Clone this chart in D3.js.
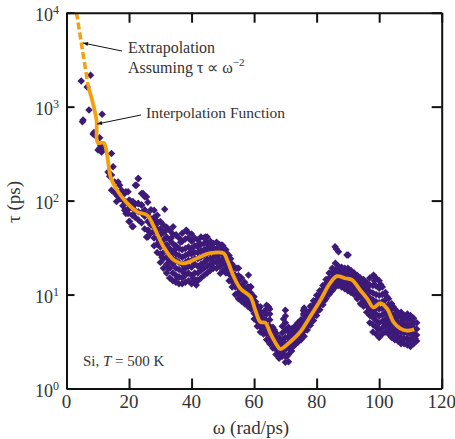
<!DOCTYPE html>
<html>
<head>
<meta charset="utf-8">
<script src="https://cdn.jsdelivr.net/npm/d3@7"></script>
<style>
body { margin: 0; background: #fff; }
text { font-family: "Liberation Serif", "Times New Roman", serif; fill: #333; }
</style>
</head>
<body>
<svg width="455" height="439"></svg>
<script>
// tick values
var xTicks = [0, 20, 40, 60, 80, 100, 120];
var yTicks = [1, 10, 100, 1000, 10000];

// interpolation function (omega, tau)
var lineW = [7.0, 8.2, 9.6, 10.0, 11.9, 13.0, 14.1, 16.2, 19.4, 22.6, 25.8, 27.9, 31.1, 34.3, 37.5, 41.8, 46.0, 50.3, 51.4, 53.5, 55.6, 58.8, 60.4, 62.0, 63.6, 65.2, 67.3, 68.4, 71.6, 74.8, 77.9, 81.2, 84.3, 86.5, 89.1, 91.3, 93.9, 96.1, 98.2, 100.3, 102.5, 104.6, 106.7, 108.8, 111.2];
var lineT = [1612, 1172, 718, 412, 412, 305, 179, 129, 94, 76, 70, 53, 32, 23.3, 21.5, 24.3, 27.6, 27.4, 23.3, 15.5, 11.6, 9.5, 6.8, 5.1, 5.0, 3.87, 2.9, 2.63, 3.15, 4.02, 5.8, 8.7, 13.2, 15.7, 14.9, 14.3, 11.2, 9.1, 7.3, 8.1, 7.1, 5.1, 4.37, 4.12, 4.26];

// extrapolation tau ~ omega^-2
var extraW = [3.2, 5.1, 7.0];
var extraT = [10000, 4000, 1612];

// scattered lifetimes, sparse part and outliers: [omega, tau]
var scatterFree = [
  [4.7, 1870], [7.7, 2160], [6.6, 1620], [7.2, 920], [11.4, 830], [5.3, 720], [5.1, 690], [8.5, 510], [8.8, 530], [9.0, 500], [10.6, 466],
  [10.6, 360], [10.1, 345], [11.7, 345], [11.2, 330], [12.0, 355], [10.9, 390], [14.4, 318], [14.9, 229], [13.3, 202], [13.8, 182], [14.4, 187],
  [15.4, 158], [16.5, 158], [14.4, 129], [17.0, 146], [22.9, 172], [22.4, 146], [17.6, 129], [18.6, 119], [19.7, 124], [20.2, 101],
  [24.5, 119], [25.6, 110], [21.3, 97], [18.6, 79], [19.7, 73], [21.3, 70], [22.9, 93], [24.0, 90], [31.4, 81], [20.2, 60], [21.3, 53],
  [25.6, 41], [26.1, 48.5], [27.7, 57], [34.1, 52.6], [38.3, 48.5], [35.1, 43], [15.5, 120], [16.3, 112], [17.1, 104], [16.0, 98],
  [28.5, 62], [29.5, 36], [30.5, 25], [31.5, 47], [32.5, 19], [33.5, 40], [34.5, 30], [35.5, 15], [36.5, 36], [37.5, 17], [38.6, 46.5],
  [39.5, 28], [40.5, 15], [41.5, 12.6], [41.8, 14.3], [42.5, 35], [43.5, 19], [44.4, 41], [45.5, 33], [46.5, 20], [47.5, 30], [48.5, 23],
  [49.2, 16.8], [49.7, 33.6], [50.5, 26], [51.5, 19], [52.5, 24], [53.5, 13], [54.5, 19], [55.5, 10], [56.5, 13], [57.5, 9], [58.2, 16.1],
  [58.8, 12.1], [59.5, 8], [60.5, 8.4], [61.5, 5], [62.5, 6], [63.5, 4.2], [64.6, 7.4], [65.5, 3.2], [66.5, 4.2], [67.5, 2.6], [68.5, 3.2],
  [69.4, 5.5], [70.5, 2.2], [71.5, 3.7], [72.5, 2.8], [73.5, 4.3], [74.5, 3.5], [75.8, 6.8], [75.8, 6.2], [76.5, 4.5], [77.5, 6.2],
  [78.5, 5.2], [79.5, 8.3], [80.5, 6.8], [81.5, 10.5], [82.5, 8.6], [83.5, 13.8], [84.5, 11], [85.5, 18], [85.9, 32.2], [86.3, 30.5],
  [87, 28.5], [89.7, 26.3], [90.1, 26.3], [86, 21.5], [88.5, 18.5], [89.5, 12.5], [90.5, 17.5], [91.5, 11.5], [92.5, 16], [93.5, 10],
  [94.5, 14], [95.5, 8.3], [96.5, 12.8], [97.5, 6], [98.2, 16.1], [98.5, 14], [99.5, 4.4], [100.5, 12.8], [101.5, 5], [102.5, 9.5],
  [103.5, 4.2], [104.5, 7.4], [105.5, 3.6], [106.5, 6], [107.5, 3.3], [108.5, 5.8], [109.5, 3.2], [110.5, 5.2], [111.5, 3.4]
];

// scattered lifetimes, dense part: [omega, tau, tau, ...]
var scatterCols = [
  [18, 118, 102, 88], [19, 124, 97, 79, 73], [20, 101, 90, 82, 60], [21, 97, 84, 70, 53], [22, 146, 92, 78, 66],
  [23, 172, 93, 76, 62], [24, 119, 90, 74, 58], [25, 110, 80, 68, 50], [26, 96, 72, 60, 48, 41], [27, 80, 64, 55, 45],
  [28, 33, 40, 47, 52, 58, 66, 79], [29, 28, 34, 40, 45, 50, 57, 70], [30, 22, 27, 32, 37, 43, 50, 60],
  [31, 19, 24, 28, 33, 38, 46, 55], [32, 17, 21, 25, 29, 34, 41, 52], [33, 15, 19, 23, 27, 31, 38, 48],
  [34, 14, 17, 21, 24, 28, 35, 44], [35, 13.5, 16, 19, 23, 27, 33, 43], [36, 13, 15.5, 18.5, 22, 26, 31, 40],
  [37, 13, 15, 18, 21, 25, 30, 37, 45], [38, 13.5, 16, 19, 22, 26, 31, 39], [39, 14, 17, 20, 23, 27, 32, 40],
  [40, 13, 16, 19.5, 23, 27, 31, 37, 44], [41, 14.3, 17, 21, 24, 28, 33, 40], [42, 14, 17, 20, 24, 28, 32, 38],
  [43, 15, 18, 21, 25, 29, 34, 41], [44, 16, 19, 22, 26, 30, 35, 40], [45, 17, 20, 23.5, 27, 31, 36, 41],
  [46, 18, 21, 24, 28, 32, 37], [47, 19, 22, 25, 28, 31, 35], [48, 19, 22, 25, 28, 31, 36], [49, 20, 23, 27, 30, 34],
  [50, 18, 21, 24, 27, 30, 33], [51, 17, 20, 23, 25, 28, 30], [52, 14, 16.5, 19, 21, 23.5, 26], [53, 12, 14, 15.5, 17, 19, 21],
  [54, 10, 12, 13.5, 14.5, 16, 19], [55, 9, 10.5, 11.8, 12.6, 14, 16, 19], [56, 8.5, 9.8, 10.6, 11.4, 12.6, 15],
  [57, 8, 9, 9.8, 10.5, 11.6, 13.5], [58, 7.5, 8.6, 9.4, 10, 11.2, 12.1], [59, 7, 8, 8.7, 9.3, 10.4, 12],
  [60, 5.5, 6.3, 7, 7.5, 8.4, 9.5], [61, 4.6, 5.2, 5.7, 6.1, 6.8, 7.6], [62, 4.0, 4.5, 4.9, 5.2, 5.8, 6.6, 7.4],
  [63, 3.8, 4.3, 4.7, 5.1, 5.6, 6.5], [64, 3.3, 3.8, 4.3, 4.7, 5.3, 6.2, 7, 7.7], [65, 3.0, 3.4, 3.8, 4.1, 4.6, 5.4, 6.2, 7.0],
  [66, 2.7, 3.0, 3.3, 3.6, 4.0, 4.5], [67, 2.3, 2.6, 2.9, 3.1, 3.5, 3.9], [68, 2.1, 2.4, 2.6, 2.8, 3.1, 3.5],
  [69, 2.2, 2.4, 2.7, 2.9, 3.3, 3.9, 4.6], [70, 1.9, 2.2, 2.6, 3.0, 3.5, 4.2, 5.0, 5.9, 6.8], [71, 1.93, 2.3, 2.7, 3.1, 3.5, 4.0, 4.5],
  [72, 2.5, 2.8, 3.1, 3.4, 3.8, 4.3], [73, 2.9, 3.2, 3.5, 3.7, 4.1, 4.6], [74, 3.1, 3.4, 3.7, 4.0, 4.4, 5.0],
  [75, 3.3, 3.7, 4.0, 4.3, 4.8, 5.4], [76, 3.6, 4.1, 4.5, 4.9, 5.4, 6.0, 6.6, 7.2], [77, 4.2, 4.7, 5.1, 5.5, 6.0, 6.5],
  [78, 4.7, 5.3, 5.8, 6.2, 6.8, 7.5], [79, 5.3, 6.0, 6.5, 7.0, 7.8, 8.6], [80, 6.0, 6.8, 7.4, 8.0, 8.8, 9.8],
  [81, 6.9, 7.7, 8.4, 9.0, 10, 11], [82, 7.8, 8.8, 9.5, 10.3, 11.3, 12.5], [83, 9.0, 10, 11, 11.8, 13, 14.5],
  [84, 10, 11.4, 12.5, 13.4, 15, 17], [85, 11, 12.6, 14, 15, 16.8, 19], [86, 12, 13.6, 15, 16.3, 18.5],
  [87, 12.5, 14, 15.3, 16.5, 18.2, 20], [88, 12, 13.5, 14.8, 16, 17.6, 19.5], [89, 11.5, 13, 14.5, 15.7, 17.3, 19],
  [90, 11, 12.6, 14.2, 15.5, 17.2, 19], [91, 10.5, 12, 13.8, 15, 16.5, 18], [92, 10, 11.5, 12.8, 14, 15.5, 17],
  [93, 9, 10.4, 11.6, 12.8, 14.3, 16], [94, 8, 9.4, 10.6, 11.7, 13.2, 15], [95, 7.5, 8.6, 9.7, 10.8, 12.5, 14.5],
  [96, 6.5, 7.6, 8.8, 9.8, 11.6, 13.5], [97, 5, 6, 7, 8, 9.2, 10.8, 12.6, 15], [98, 4, 4.8, 5.7, 6.6, 7.6, 8.8, 10.4, 12.5],
  [99, 3.8, 4.5, 5.3, 6.2, 7.2, 8.4, 10, 12.3, 15], [100, 3.5, 4.2, 5, 5.9, 7, 8.2, 9.8, 11.7, 14], [101, 3.8, 4.4, 5.2, 6.1, 7.1, 8.4, 10, 12],
  [102, 4, 4.7, 5.5, 6.4, 7.4, 8.8, 10.5], [103, 3.8, 4.4, 5.1, 5.9, 6.8, 7.8, 9], [104, 3.5, 4.1, 4.7, 5.4, 6.1, 7, 8],
  [105, 3.3, 3.8, 4.3, 4.9, 5.5, 6.2, 7], [106, 3.2, 3.6, 4.1, 4.6, 5.1, 5.8, 6.5], [107, 3.0, 3.5, 4.0, 4.4, 5.0, 5.7, 6.5],
  [108, 3.0, 3.4, 3.9, 4.3, 4.8, 5.4, 6], [109, 2.9, 3.4, 3.9, 4.3, 4.8, 5.5, 6.2], [110, 2.8, 3.3, 3.8, 4.3, 4.8, 5.4, 6],
  [111, 3.0, 3.5, 3.9, 4.4, 4.9, 5.6], [112, 3.2, 3.7, 4.3, 5.0]
];

var purple = "#3d1a78",
    orange = "#f5a00f";

var svg = d3.select("svg");
var plotLeft = 66.5, plotRight = 441.7, plotTop = 12.7, plotBottom = 388.5;

var x = d3.scaleLinear().domain([0, 120]).range([plotLeft, plotRight]);
var y = d3.scaleLog().domain([1, 1e4]).range([plotBottom, plotTop]);

svg.append("clipPath").attr("id", "plot")
  .append("rect")
  .attr("x", plotLeft).attr("y", plotTop)
  .attr("width", plotRight - plotLeft).attr("height", plotBottom - plotTop);

var pts = scatterCols.flatMap(function(c) {
  return c.slice(1).map(function(t) { return [c[0], t]; });
}).concat(scatterFree);

svg.append("g")
  .attr("clip-path", "url(#plot)")
  .selectAll("path")
  .data(pts)
  .enter()
  .append("path")
  .attr("d", d3.symbol(d3.symbolSquare, 28)())
  .attr("transform", function(d) {
    return "translate(" + x(d[0]) + "," + y(d[1]) + ") rotate(45)";
  })
  .attr("fill", purple);

var line = d3.line()
  .x(function(d) { return x(d[0]); })
  .y(function(d) { return y(d[1]); })
  .curve(d3.curveCatmullRom.alpha(0.5));

var curves = svg.append("g").attr("clip-path", "url(#plot)");

curves.append("path")
  .datum(d3.zip(extraW, extraT))
  .attr("d", line)
  .attr("fill", "none")
  .attr("stroke", orange)
  .attr("stroke-width", 3.5)
  .attr("stroke-dasharray", "7,3");

curves.append("path")
  .datum(d3.zip(lineW, lineT))
  .attr("d", line)
  .attr("fill", "none")
  .attr("stroke", orange)
  .attr("stroke-width", 3.8)
  .attr("stroke-linejoin", "round");

// axes, ticks inward on all four sides
function styleAxis(g) {
  g.select(".domain").attr("stroke", "#111").attr("stroke-width", 2);
  g.selectAll(".tick line").attr("stroke", "#111").attr("stroke-width", 2);
}

svg.append("g")
  .attr("transform", "translate(0," + plotBottom + ")")
  .call(d3.axisBottom(x).tickValues(xTicks).tickSize(-10).tickSizeOuter(0).tickFormat(""))
  .call(styleAxis);
svg.append("g")
  .attr("transform", "translate(0," + plotTop + ")")
  .call(d3.axisTop(x).tickValues(xTicks).tickSize(-10).tickSizeOuter(0).tickFormat(""))
  .call(styleAxis);
svg.append("g")
  .attr("transform", "translate(" + plotLeft + ",0)")
  .call(d3.axisLeft(y).tickValues(yTicks).tickSize(-8).tickSizeOuter(0).tickFormat(""))
  .call(styleAxis);
svg.append("g")
  .attr("transform", "translate(" + plotRight + ",0)")
  .call(d3.axisRight(y).tickValues(yTicks).tickSize(-10).tickSizeOuter(0).tickFormat(""))
  .call(styleAxis);

// tick labels
svg.append("g").selectAll("text")
  .data(xTicks)
  .enter()
  .append("text")
  .attr("x", function(d) { return x(d); })
  .attr("y", 408)
  .attr("text-anchor", "middle")
  .attr("font-size", 19)
  .text(function(d) { return d; });

var yl = svg.append("g").selectAll("text")
  .data(yTicks)
  .enter()
  .append("text")
  .attr("x", 59)
  .attr("y", function(d) { return y(d) + 8; })
  .attr("text-anchor", "end")
  .attr("font-size", 18);
yl.append("tspan").text("10");
yl.append("tspan")
  .attr("font-size", 12)
  .attr("dy", -7)
  .text(function(d) { return Math.round(Math.log10(d)); });

// axis titles
svg.append("text")
  .attr("x", 251).attr("y", 434)
  .attr("text-anchor", "middle")
  .attr("font-size", 19)
  .text("ω (rad/ps)");

svg.append("text")
  .attr("transform", "translate(20,202) rotate(-90)")
  .attr("text-anchor", "middle")
  .attr("font-size", 19)
  .text("τ (ps)");

// annotations
svg.append("defs").append("marker")
  .attr("id", "arrow")
  .attr("viewBox", "0 0 10 10")
  .attr("refX", 10).attr("refY", 5)
  .attr("markerWidth", 7).attr("markerHeight", 5)
  .attr("orient", "auto")
  .append("path")
  .attr("d", "M0,1L10,5L0,9Z")
  .attr("fill", "#111");

svg.append("line")
  .attr("x1", 122).attr("y1", 51)
  .attr("x2", 83).attr("y2", 43)
  .attr("stroke", "#111").attr("stroke-width", 1)
  .attr("marker-end", "url(#arrow)");

svg.append("line")
  .attr("x1", 141).attr("y1", 115)
  .attr("x2", 97).attr("y2", 124)
  .attr("stroke", "#111").attr("stroke-width", 1)
  .attr("marker-end", "url(#arrow)");

svg.append("text")
  .attr("x", 128).attr("y", 53)
  .attr("font-size", 16)
  .text("Extrapolation");

var assum = svg.append("text")
  .attr("x", 128).attr("y", 73)
  .attr("font-size", 16);
assum.append("tspan").text("Assuming τ ∝ ω");
assum.append("tspan").attr("font-size", 11).attr("dy", -7).text("−2");

svg.append("text")
  .attr("x", 146).attr("y", 118)
  .attr("font-size", 15.5)
  .text("Interpolation Function");

var si = svg.append("text")
  .attr("x", 83).attr("y", 366)
  .attr("font-size", 15);
si.append("tspan").text("Si, ");
si.append("tspan").attr("font-style", "italic").text("T");
si.append("tspan").text(" = 500 K");
</script>
</body>
</html>
